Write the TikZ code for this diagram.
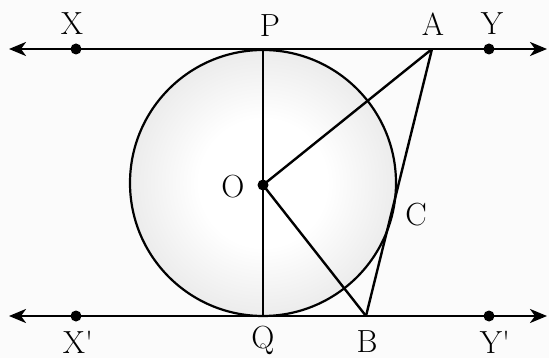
\documentclass[tikz,border=0pt]{standalone}
\usepackage{fontspec}
\setmainfont{Latin Modern Roman}
\usetikzlibrary{arrows.meta}
\pgfdeclareradialshading{ballshade}{\pgfpoint{0bp}{0bp}}{color(0bp)=(white); color(12bp)=(white); color(50bp)=(black!22)}
\begin{document}
\begin{tikzpicture}[x=1pt,y=-1pt,
  ln/.style={line width=2.4pt,black},
  dotst/.style={circle,fill=black,inner sep=0pt,minimum size=11pt},
  lbl/.style={font=\fontsize{32}{34}\selectfont,inner sep=0pt},
  arr/.style={-{Stealth[length=17pt,width=14pt,inset=5pt]}}]
\fill[white!98.5!black] (0,0) rectangle (549,358);
\useasboundingbox (0,0) rectangle (549,358);
% circle
\shade[shading=ballshade] (263,183) circle (133);
\draw[line width=2.2pt] (263,183) circle (133);
% named points
\coordinate (O) at (263,185);
\coordinate (P) at (263,49);
\coordinate (Q) at (263,316);
\coordinate (A) at (432,49);
\coordinate (B) at (366,316);
\coordinate (Lt) at (9,49);
\coordinate (Rt) at (547,49);
\coordinate (Lb) at (9,316);
\coordinate (Rb) at (547,316);
% tangent lines
\draw[ln,arr] (A) -- (Lt);
\draw[ln,arr] (A) -- (Rt);
\draw[ln,arr] (B) -- (Lb);
\draw[ln,arr] (B) -- (Rb);
% chords
\draw[ln] (P) -- (Q);
\draw[ln] (O) -- (A);
\draw[ln] (O) -- (B);
\draw[ln] (A) -- (B);
% dots
\node[dotst] (Xd) at (76,49) {};
\node[dotst] (Yd) at (489,49) {};
\node[dotst] (Xpd) at (76,316) {};
\node[dotst] (Ypd) at (489,316) {};
\node[dotst] (Od) at (O) {};
% labels
\node[lbl] (lX) at (72,24) {X};
\node[lbl] (lP) at (270,26) {P};
\node[lbl] (lA) at (433,24) {A};
\node[lbl] (lY) at (492,24) {Y};
\node[lbl] (lO) at (233,187) {O};
\node[lbl] (lC) at (416,215) {C};
\node[lbl] (lXp) at (78,342) {X\textquotesingle};
\node[lbl] (lQ) at (263,340) {Q};
\node[lbl] (lB) at (367,342) {B};
\node[lbl] (lYp) at (495,342) {Y\textquotesingle};
\end{tikzpicture}
\end{document}
